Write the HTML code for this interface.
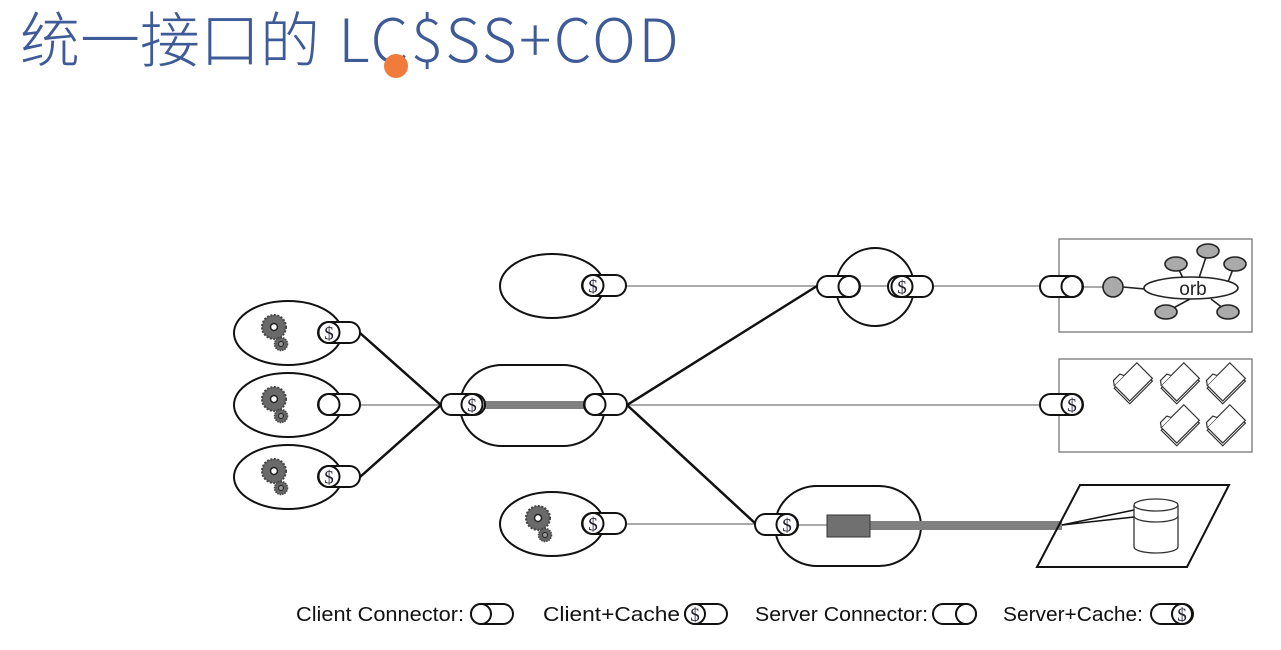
<!DOCTYPE html>
<html><head><meta charset="utf-8"><style>
html,body{margin:0;padding:0;background:#fff;}
.t{position:absolute;left:20px;top:-7px;font-family:"Noto Sans CJK SC","Liberation Sans",sans-serif;font-size:60px;color:#3e5b98;font-weight:300;white-space:nowrap;}
.t span{letter-spacing:2.5px;margin-left:5px;}
</style></head><body>
<div style="position:relative;width:1281px;height:650px;overflow:hidden;">
<div class="t">统一接口的 <span>LC$SS+COD</span></div>
<div style="position:absolute;left:384px;top:54px;width:24px;height:24px;border-radius:50%;background:#f07b3a;"></div>
<svg width="1281" height="650" style="position:absolute;left:0;top:0" font-family="Liberation Sans, sans-serif">
<defs>
<g id="gear">
<circle r="12" fill="#666" stroke="#444" stroke-width="2" stroke-dasharray="2 1.5"/>
<circle r="10" fill="#6a6a6a"/>
<circle r="3.5" fill="#fff" stroke="#222" stroke-width="1.5"/>
<g transform="translate(7,17)"><circle r="6.5" fill="#666" stroke="#444" stroke-width="1.5" stroke-dasharray="1.5 1"/><circle r="2.5" fill="#999" stroke="#222" stroke-width="1"/></g>
</g>
<g id="folder" fill="#fff" stroke="#333" stroke-width="1.2">
<g transform="rotate(-45)">
<rect x="-17" y="-11" width="32" height="22"/>
<rect x="-15" y="-13" width="32" height="22"/>
<path d="M-15,-13 l3,-4 h9 l2,4"/>
</g>
</g>
</defs>
<g fill="none" stroke="#111" stroke-width="2">
<ellipse cx="288" cy="333" rx="54" ry="32"/>
<ellipse cx="288" cy="405" rx="54" ry="32"/>
<ellipse cx="288" cy="477" rx="54" ry="32"/>
<ellipse cx="552" cy="286" rx="52" ry="32"/>
<ellipse cx="552" cy="524" rx="52" ry="32"/>
<rect x="460" y="365" width="145" height="81" rx="42"/>
<circle cx="875" cy="287" r="39"/>
<rect x="775" y="486" width="146" height="80" rx="42"/>
</g>
<use href="#gear" x="274" y="327"/>
<use href="#gear" x="274" y="399"/>
<use href="#gear" x="274" y="471"/>
<use href="#gear" x="538" y="518"/>
<g stroke="#777" stroke-width="1.2">
<line x1="360" y1="405" x2="441" y2="405"/>
<line x1="626" y1="286" x2="817" y2="286"/>
<line x1="860" y1="286" x2="888" y2="286"/>
<line x1="933" y1="286" x2="1040" y2="286"/>
<line x1="1083" y1="287" x2="1103" y2="287"/>
<line x1="627" y1="405" x2="1040" y2="405"/>
<line x1="626" y1="524" x2="757" y2="524"/>
<line x1="798" y1="525" x2="827" y2="525"/>
</g>
<g stroke="#111" stroke-width="2.5">
<line x1="360" y1="333" x2="441" y2="405"/>
<line x1="360" y1="477" x2="441" y2="405"/>
<line x1="627" y1="405" x2="817" y2="286"/>
<line x1="627" y1="405" x2="757" y2="525"/>
</g>
<rect x="482" y="401" width="108" height="8" fill="#808080"/>
<rect x="870" y="521" width="192" height="9" fill="#808080"/>
<rect x="827" y="515" width="43" height="22" fill="#707070" stroke="#333"/>
<g fill="#fff" stroke="#111" stroke-width="2" font-family="Liberation Serif, serif" font-size="19">
<g><rect x="318" y="322" width="42" height="21" rx="10.5"/><circle cx="329" cy="332.5" r="10.5"/><text x="329" y="339.5" text-anchor="middle" fill="#223" stroke="none">$</text></g>
<g><rect x="318" y="394" width="42" height="21" rx="10.5"/><circle cx="329" cy="404.5" r="10.5"/></g>
<g><rect x="318" y="466" width="42" height="21" rx="10.5"/><circle cx="329" cy="476.5" r="10.5"/><text x="329" y="483.5" text-anchor="middle" fill="#223" stroke="none">$</text></g>
<g><rect x="582" y="275" width="44" height="21" rx="10.5"/><circle cx="593" cy="285.5" r="10.5"/><text x="593" y="292.5" text-anchor="middle" fill="#223" stroke="none">$</text></g>
<g><rect x="582" y="513" width="44" height="21" rx="10.5"/><circle cx="593" cy="523.5" r="10.5"/><text x="593" y="530.5" text-anchor="middle" fill="#223" stroke="none">$</text></g>
<g><rect x="441" y="394" width="44" height="21" rx="10.5"/><circle cx="472" cy="404.5" r="10.5"/><text x="472" y="411.5" text-anchor="middle" fill="#223" stroke="none">$</text></g>
<g><rect x="584" y="394" width="43" height="21" rx="10.5"/><circle cx="595" cy="404.5" r="10.5"/></g>
<g><rect x="817" y="276" width="43" height="21" rx="10.5"/><circle cx="849" cy="286.5" r="10.5"/></g>
<g><rect x="888" y="276" width="45" height="21" rx="10.5"/><circle cx="902" cy="286.5" r="10.5"/><text x="902" y="293.5" text-anchor="middle" fill="#223" stroke="none">$</text></g>
<g><rect x="755" y="514" width="43" height="21" rx="10.5"/><circle cx="787" cy="524.5" r="10.5"/><text x="787" y="531.5" text-anchor="middle" fill="#223" stroke="none">$</text></g>
</g>
<g fill="none" stroke="#777" stroke-width="1.3">
<rect x="1059" y="239" width="193" height="93"/>
<rect x="1059" y="359" width="193" height="93"/>
</g>
<g fill="#fff" stroke="#111" stroke-width="2" font-family="Liberation Serif, serif" font-size="19">
<g><rect x="1040" y="276" width="43" height="21" rx="10.5"/><circle cx="1072" cy="286.5" r="10.5"/></g>
<g><rect x="1040" y="394" width="43" height="21" rx="10.5"/><circle cx="1072" cy="404.5" r="10.5"/><text x="1072" y="411.5" text-anchor="middle" fill="#223" stroke="none">$</text></g>
</g>
<g stroke="#222" stroke-width="1.6">
<line x1="1123" y1="287" x2="1145" y2="289"/>
<line x1="1176" y1="264" x2="1183" y2="278"/>
<line x1="1208" y1="251" x2="1199" y2="278"/>
<line x1="1235" y1="264" x2="1228" y2="282"/>
<line x1="1166" y1="312" x2="1190" y2="299"/>
<line x1="1228" y1="312" x2="1211" y2="299"/>
<circle cx="1113" cy="287" r="10" fill="#aaa"/>
<ellipse cx="1191" cy="288" rx="47" ry="11" fill="#fff"/>
<ellipse cx="1176" cy="264" rx="11" ry="7" fill="#aaa"/>
<ellipse cx="1208" cy="251" rx="11" ry="7" fill="#aaa"/>
<ellipse cx="1235" cy="264" rx="11" ry="7" fill="#aaa"/>
<ellipse cx="1166" cy="312" rx="11" ry="7" fill="#aaa"/>
<ellipse cx="1228" cy="312" rx="11" ry="7" fill="#aaa"/>
</g>
<text x="1193" y="295" text-anchor="middle" font-size="19" fill="#222">orb</text>
<use href="#folder" x="1134" y="384"/>
<use href="#folder" x="1181" y="384"/>
<use href="#folder" x="1227" y="384"/>
<use href="#folder" x="1181" y="426"/>
<use href="#folder" x="1227" y="426"/>
<polygon points="1080,485 1229,485 1187,567 1037,567" fill="none" stroke="#111" stroke-width="2"/>
<g stroke="#111" stroke-width="1.5" fill="none">
<line x1="1062" y1="525" x2="1134" y2="510"/>
<line x1="1062" y1="525" x2="1134" y2="517"/>
</g>
<g stroke="#333" stroke-width="1.3" fill="#fff">
<path d="M1134,505 v42 a22,6 0 0 0 44,0 v-42"/>
<ellipse cx="1156" cy="505" rx="22" ry="6"/>
<path d="M1134,516 a22,6 0 0 0 44,0" fill="none"/>
</g>
<g font-size="20" fill="#111">
<text x="296" y="621" textLength="168" lengthAdjust="spacingAndGlyphs">Client Connector:</text>
<text x="543" y="621" textLength="137" lengthAdjust="spacingAndGlyphs">Client+Cache</text>
<text x="755" y="621" textLength="173" lengthAdjust="spacingAndGlyphs">Server Connector:</text>
<text x="1003" y="621" textLength="140" lengthAdjust="spacingAndGlyphs">Server+Cache:</text>
</g>
<g fill="#fff" stroke="#111" stroke-width="2" font-family="Liberation Serif, serif" font-size="19">
<g><rect x="471" y="604" width="42" height="20" rx="10"/><circle cx="481" cy="614" r="10"/></g>
<g><rect x="685" y="604" width="42" height="20" rx="10"/><circle cx="695" cy="614" r="10"/><text x="695" y="621" text-anchor="middle" fill="#223" stroke="none">$</text></g>
<g><rect x="933" y="604" width="43" height="20" rx="10"/><circle cx="966" cy="614" r="10"/></g>
<g><rect x="1151" y="604" width="42" height="20" rx="10"/><circle cx="1182" cy="614" r="10"/><text x="1182" y="621" text-anchor="middle" fill="#223" stroke="none">$</text></g>
</g>
</svg>
</div>
</body></html>
